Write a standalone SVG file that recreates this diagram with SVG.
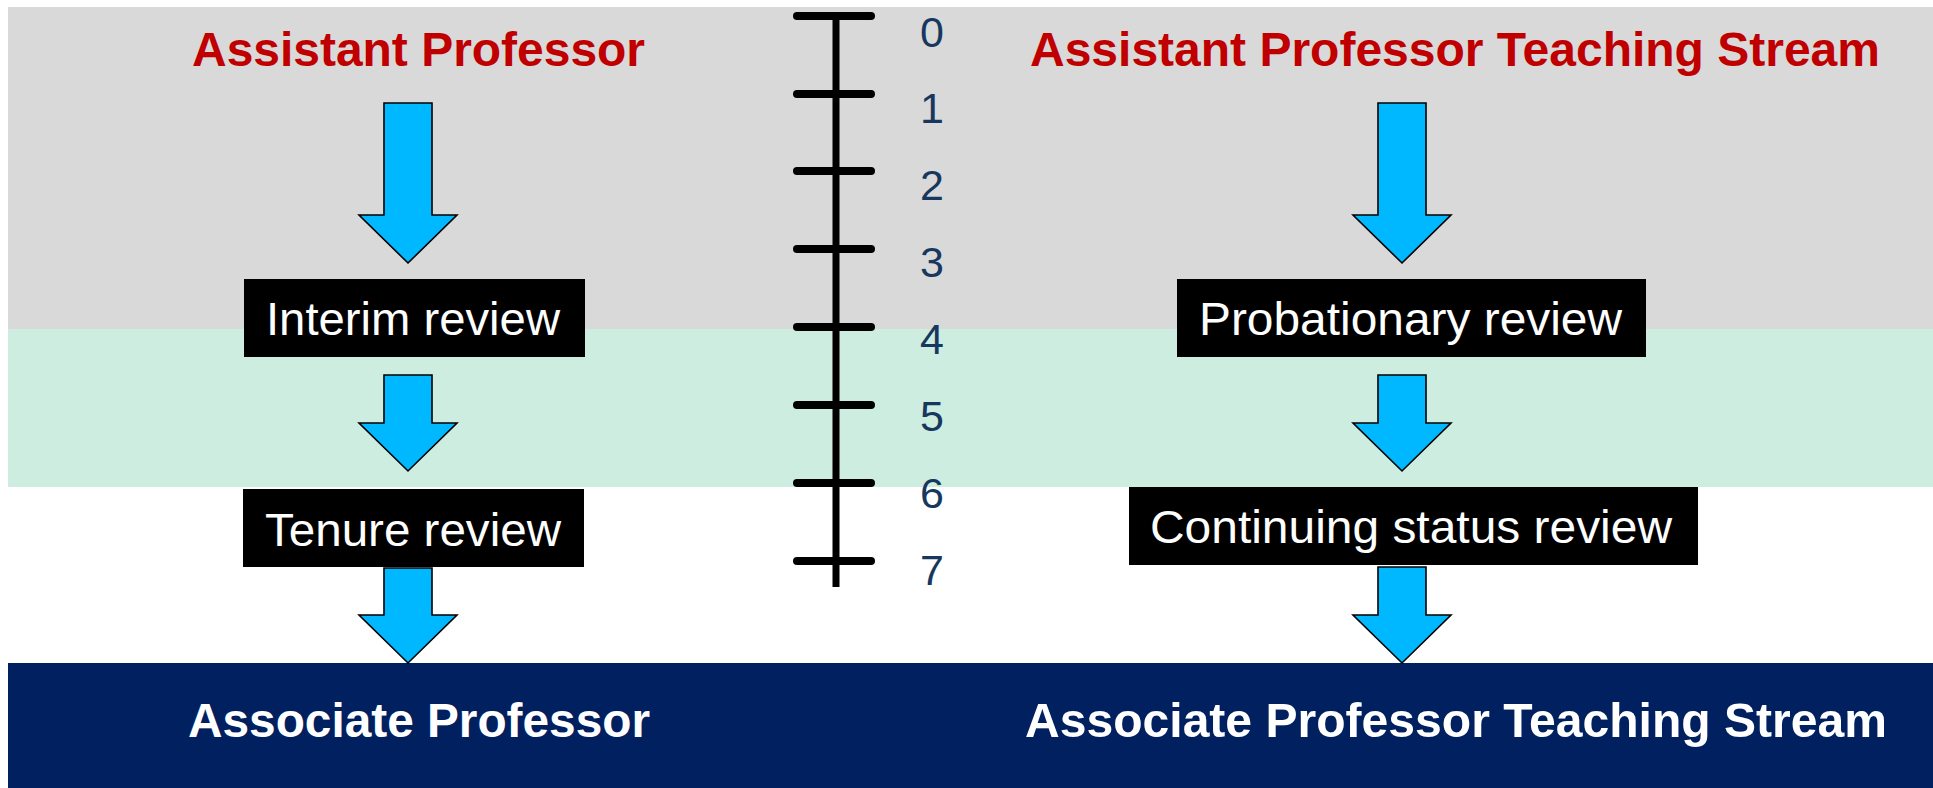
<svg xmlns="http://www.w3.org/2000/svg" width="1933" height="788" viewBox="0 0 1933 788">
<style>
.title{font-family:"Liberation Sans",Arial,sans-serif;font-weight:bold;font-size:48px;fill:#C00000}
.bottom{font-family:"Liberation Sans",Arial,sans-serif;font-weight:bold;font-size:48px;fill:#FFFFFF}
.box{fill:#000000}
.boxtxt{font-family:"Liberation Sans",Arial,sans-serif;font-size:47px;fill:#FFFFFF}
.arrow{fill:#00B8FF;stroke:#000000;stroke-width:1.6;stroke-linejoin:miter}
.tick{stroke:#000000;stroke-width:8;stroke-linecap:round}
.axis{stroke:#000000;stroke-width:7}
.num{font-family:"Liberation Sans",Arial,sans-serif;font-size:43px;fill:#17375E;text-anchor:middle}
</style>
<rect width="1933" height="788" fill="#FFFFFF"/>
<g id="bands">
<rect x="8" y="7" width="1925" height="322" fill="#D9D9D9"/>
<rect x="8" y="329" width="1925" height="158" fill="#CCEDDF"/>
<rect x="8" y="663" width="1925" height="125" fill="#002060"/>
</g>
<g id="timeline">
<line class="axis" x1="836" y1="15" x2="836" y2="587"/>
<line class="tick" x1="797" y1="16" x2="871" y2="16"/>
<line class="tick" x1="797" y1="94" x2="871" y2="94"/>
<line class="tick" x1="797" y1="171" x2="871" y2="171"/>
<line class="tick" x1="797" y1="249" x2="871" y2="249"/>
<line class="tick" x1="797" y1="327" x2="871" y2="327"/>
<line class="tick" x1="797" y1="405" x2="871" y2="405"/>
<line class="tick" x1="797" y1="483" x2="871" y2="483"/>
<line class="tick" x1="797" y1="561" x2="871" y2="561"/>
<text class="num" x="932" y="47">0</text>
<text class="num" x="932" y="123">1</text>
<text class="num" x="932" y="200">2</text>
<text class="num" x="932" y="277">3</text>
<text class="num" x="932" y="354">4</text>
<text class="num" x="932" y="431">5</text>
<text class="num" x="932" y="508">6</text>
<text class="num" x="932" y="585">7</text>
</g>
<g id="connectors">
<polygon class="arrow" points="384,103 432,103 432,215 457,215 408,263 359,215 384,215"/>
<polygon class="arrow" points="384,375 432,375 432,423 457,423 408,471 359,423 384,423"/>
<polygon class="arrow" points="384,568 432,568 432,615 457,615 408,663 359,615 384,615"/>
<polygon class="arrow" points="1378,103 1426,103 1426,215 1451,215 1402,263 1353,215 1378,215"/>
<polygon class="arrow" points="1378,375 1426,375 1426,423 1451,423 1402,471 1353,423 1378,423"/>
<polygon class="arrow" points="1378,567 1426,567 1426,615 1451,615 1402,663 1353,615 1378,615"/>
</g>
<g id="assistant-professor">
<text class="title" x="192" y="66" textLength="453" lengthAdjust="spacingAndGlyphs">Assistant Professor</text>
</g>
<g id="assistant-professor-ts">
<text class="title" x="1030" y="66" textLength="850" lengthAdjust="spacingAndGlyphs">Assistant Professor Teaching Stream</text>
</g>
<g id="interim-review">
<rect class="box" x="244" y="279" width="341" height="78"/>
<text class="boxtxt" x="266" y="335" textLength="294" lengthAdjust="spacingAndGlyphs">Interim review</text>
</g>
<g id="tenure-review">
<rect class="box" x="243" y="489" width="341" height="78"/>
<text class="boxtxt" x="265" y="546" textLength="296" lengthAdjust="spacingAndGlyphs">Tenure review</text>
</g>
<g id="probationary-review">
<rect class="box" x="1177" y="279" width="469" height="78"/>
<text class="boxtxt" x="1199" y="335" textLength="423" lengthAdjust="spacingAndGlyphs">Probationary review</text>
</g>
<g id="continuing-status-review">
<rect class="box" x="1129" y="487" width="569" height="78"/>
<text class="boxtxt" x="1150" y="543" textLength="522" lengthAdjust="spacingAndGlyphs">Continuing status review</text>
</g>
<g id="associate-professor">
<text class="bottom" x="188" y="737" textLength="462" lengthAdjust="spacingAndGlyphs">Associate Professor</text>
</g>
<g id="associate-professor-ts">
<text class="bottom" x="1025" y="737" textLength="862" lengthAdjust="spacingAndGlyphs">Associate Professor Teaching Stream</text>
</g>
</svg>
